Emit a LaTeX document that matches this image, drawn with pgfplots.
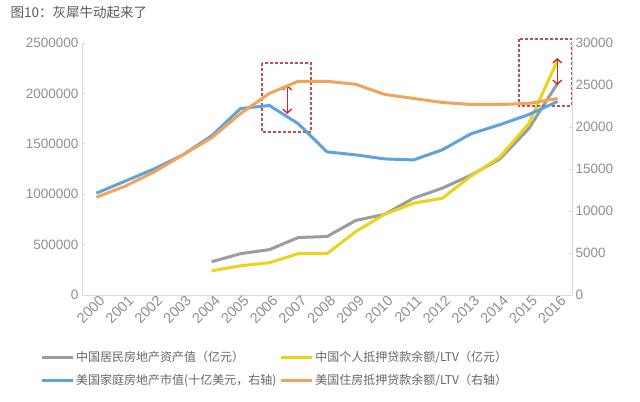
\documentclass[border=0pt]{standalone}
\usepackage{pgfplots}
\pgfplotsset{compat=1.18}
\usepackage{fontspec}
\setmainfont{Liberation Sans}
\newfontfamily\cjk{Noto Sans CJK SC}
\usetikzlibrary{arrows.meta}
\definecolor{cgray}{HTML}{9C9C9C}
\definecolor{cyellow}{HTML}{EDD21C}
\definecolor{cblue}{HTML}{5EA3DE}
\definecolor{corange}{HTML}{F2A35A}
\definecolor{axgray}{HTML}{D9D9D9}
\definecolor{tickgray}{HTML}{909090}
\definecolor{boxred}{HTML}{C0504D}
\definecolor{arrred}{HTML}{D02B2B}
\begin{document}
\begin{tikzpicture}
\useasboundingbox (-82bp,-107bp) rectangle (558bp,295bp);
\node[anchor=west, font=\cjk\fontsize{13.5bp}{15bp}\selectfont, text=black!65] at (-75bp,283bp) {图10：灰犀牛动起来了};
\pgfplotsset{
  common/.style={
    scale only axis, width=490bp, height=252bp,
    xmin=-0.5, xmax=16.5,
    axis line style={axgray, line width=0.8bp},
    tick style={axgray, line width=0.8bp},
    major tick length=3bp,
    tick label style={text=tickgray, font=\fontsize{13.5bp}{15bp}\selectfont},
    /pgf/number format/assume math mode=true,
    scaled y ticks=false,
    yticklabel style={/pgf/number format/fixed, /pgf/number format/1000 sep={}},
    clip=false,
  }
}
\begin{axis}[common,
  axis y line*=left, axis x line*=bottom,
  ymin=0, ymax=2500000, ytick={0,500000,1000000,1500000,2000000,2500000},
  xtick={0,...,16}, xtick style={draw=none},
  xticklabels={2000,2001,2002,2003,2004,2005,2006,2007,2008,2009,2010,2011,2012,2013,2014,2015,2016},
  xticklabel style={rotate=45, anchor=north east, font=\fontsize{14.5bp}{16bp}\selectfont, inner sep=1bp, xshift=3bp},
  legend columns=2,
  legend cell align=left,
  legend image code/.code={\draw[#1] (0bp,0bp) -- (31bp,0bp);},
  legend style={draw=none, fill=none, at={(-0.0857,-0.215)}, anchor=north west, inner sep=0pt,
    font=\cjk\fontsize{12bp}{14bp}\selectfont, text=black!60, row sep=7bp,
    /tikz/every even column/.append style={column sep=1bp}},
]
\addplot[cgray, line width=3bp] coordinates {
(4,330000) (5,410000) (6,450000) (7,570000) (8,580000) (9,740000) (10,800000)
(11,960000) (12,1060000) (13,1190000) (14,1350000) (15,1650000) (16,2100000)};
\addlegendentry{中国居民房地产资产值（亿元）}
\addplot[cyellow, line width=3bp] coordinates {
(4,240000) (5,290000) (6,320000) (7,410000) (8,410000) (9,630000) (10,800000)
(11,910000) (12,960000) (13,1180000) (14,1370000) (15,1700000) (16,2330000)};
\addlegendentry{中国个人抵押贷款余额/LTV（亿元）}
\addlegendimage{cblue, line width=3bp}
\addlegendentry{美国家庭房地产市值(十亿美元，右轴)}
\addlegendimage{corange, line width=3bp}
\addlegendentry{美国住房抵押贷款余额/LTV（右轴）}
\draw[boxred, dash pattern=on 3bp off 2bp, line width=1.6bp] (axis cs:5.75,2301587) rectangle (axis cs:7.45,1617063);
\draw[boxred, dash pattern=on 3bp off 2bp, line width=1.6bp] (axis cs:14.67,2539683) rectangle (axis cs:16.48,1875000);
\draw[arrred, line width=1.4bp, {Straight Barb[length=4bp,width=9bp]}-{Straight Barb[length=4bp,width=9bp]}] (axis cs:6.62,2083333) -- (axis cs:6.62,1795635);
\draw[arrred, line width=1.4bp, {Straight Barb[length=4bp,width=9bp]}-{Straight Barb[length=4bp,width=9bp]}] (axis cs:15.99,2351190) -- (axis cs:15.99,2083333);
\end{axis}
\begin{axis}[common,
  axis y line*=right, axis x line=none,
  ymin=0, ymax=30000, ytick={0,5000,10000,15000,20000,25000,30000},
]
\addplot[cblue, line width=3bp] coordinates {
(0,12120) (1,13560) (2,15000) (3,16680) (4,18960) (5,22200) (6,22560) (7,20400)
(8,17040) (9,16680) (10,16200) (11,16080) (12,17280) (13,19200) (14,20280) (15,21480) (16,23040)};
\addplot[corange, line width=3bp] coordinates {
(0,11640) (1,12960) (2,14640) (3,16680) (4,18720) (5,21600) (6,24000) (7,25440)
(8,25440) (9,25080) (10,23880) (11,23400) (12,22920) (13,22680) (14,22680) (15,22800) (16,23400)};
\end{axis}
\end{tikzpicture}
\end{document}
